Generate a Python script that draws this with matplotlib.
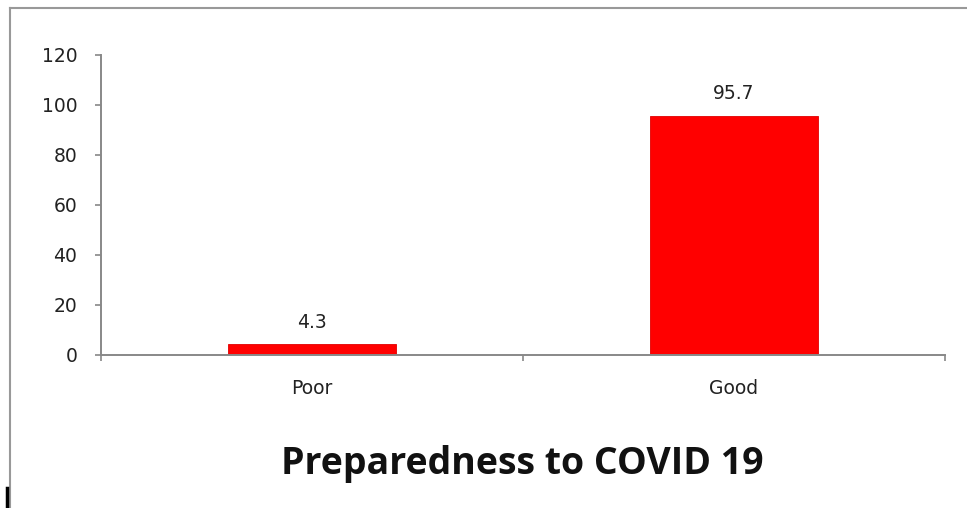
import matplotlib
matplotlib.use("Agg")
import matplotlib.pyplot as plt
from matplotlib.lines import Line2D

categories = ["Poor", "Good"]
values = [4.3, 95.7]
value_labels = ["4.3", "95.7"]
yticks = [0, 20, 40, 60, 80, 100, 120]
title = "Preparedness to COVID 19"

W, H = 967, 508
fig = plt.figure(figsize=(W / 100, H / 100), dpi=100)
fig.patch.set_facecolor("white")

left, right, top, bottom = 101, 945, 55, 355
ax = fig.add_axes([left / W, 1 - bottom / H, (right - left) / W, (bottom - top) / H])

x = list(range(len(categories)))
bars = ax.bar(x, values, width=0.4, color="#FF0000", edgecolor="#E00000", linewidth=0.6, zorder=2)
ax.set_xlim(-0.5, len(categories) - 0.5)
ax.set_ylim(0, 120)
ax.set_yticks(yticks)
ax.set_yticklabels([str(t) for t in yticks])

lab_fs = 13.5
# category labels at centers, ticks at boundaries
ax.set_xticks([i - 0.5 for i in range(len(categories) + 1)])
ax.set_xticklabels([""] * (len(categories) + 1))
ax.set_xticks(x, minor=True)
ax.set_xticklabels(categories, minor=True)
ax.tick_params(axis="x", which="minor", length=0, pad=17, labelsize=lab_fs, labelcolor="#222222")
ax.tick_params(axis="x", which="major", length=4.5, width=1.2, color="#888888")
ax.tick_params(axis="y", length=4.5, width=1.2, color="#888888", labelsize=lab_fs, labelcolor="#222222", pad=12.5)

for s in ["top", "right"]:
    ax.spines[s].set_visible(False)
for s in ["left", "bottom"]:
    ax.spines[s].set_color("#888888")
    ax.spines[s].set_linewidth(1.4)

for b, lab in zip(bars, value_labels):
    ax.annotate(lab, (b.get_x() + b.get_width() / 2, b.get_height()),
                xytext=(0, 9), textcoords="offset points", ha="center", va="bottom",
                fontsize=lab_fs, color="#222222")

fig.text(522 / W, 1 - 464 / H, title, ha="center", va="center",
         fontsize=27, fontweight="bold", family=["Open Sans", "DejaVu Sans"], color="#111111")

# outer chart border (left and top)
fig.add_artist(Line2D([9.5 / W, 9.5 / W], [0, 1 - 7.5 / H], transform=fig.transFigure, color="#999999", lw=1.5))
fig.add_artist(Line2D([9.5 / W, 1], [1 - 7.5 / H, 1 - 7.5 / H], transform=fig.transFigure, color="#999999", lw=1.5))
fig.add_artist(Line2D([6.5 / W, 6.5 / W], [0, 1 - 488 / H], transform=fig.transFigure, color="black", lw=2.5))

fig.savefig("out.png", dpi=100)
